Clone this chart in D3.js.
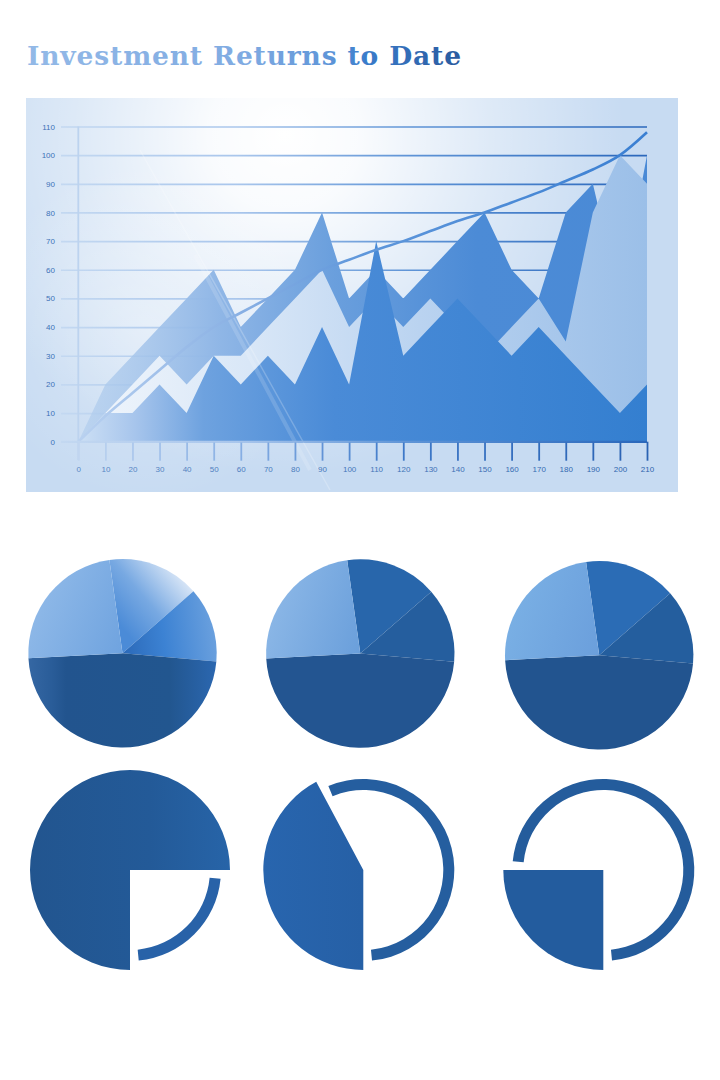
<!DOCTYPE html>
<html>
<head>
<meta charset="utf-8">
<script src="https://cdn.jsdelivr.net/npm/d3@7"></script>
<style>
  html, body { margin: 0; padding: 0; background: #ffffff; }
  svg { display: block; }
</style>
</head>
<body>
<svg id="chart" width="720" height="1080"></svg>
<script>
// ---------- DATA ----------
const titleText = "Investment Returns to Date";
const xCategories = [0,10,20,30,40,50,60,70,80,90,100,110,120,130,140,150,160,170,180,190,200,210];
const yTicks = [0,10,20,30,40,50,60,70,80,90,100,110];
const backSeries  = [0,20,30,40,50,60,40,50,60,80,50,60,50,60,70,80,60,50,80,90,50,100];
const paleSeries  = [0,10,20,30,20,30,30,40,50,60,40,50,40,50,40,30,40,50,35,80,100,90];
const frontSeries = [0,10,10,20,10,30,20,30,20,40,20,70,30,40,50,40,30,40,30,20,10,20];
const trendSeries = [0,9,17,25,33,40,45,50,55,60,63.5,67,70,73.5,77,80,83.5,87,91,95,100,108];
const pieShares = [15.8, 12.8, 47.8, 23.6];          // the three upper pies
const gaugePercents = [75, 42.2, 25];                // the three lower part-pies

// ---------- SETUP ----------
const svg = d3.select("#chart");
svg.append("rect").attr("width", 720).attr("height", 1080).attr("fill", "#ffffff");
const defs = svg.append("defs");

function linGrad(id, x1, y1, x2, y2, stops) {
  const g = defs.append("linearGradient").attr("id", id)
    .attr("gradientUnits", "userSpaceOnUse")
    .attr("x1", x1).attr("y1", y1).attr("x2", x2).attr("y2", y2);
  stops.forEach(s => g.append("stop").attr("offset", s[0]).attr("stop-color", s[1])
    .attr("stop-opacity", s[2] === undefined ? 1 : s[2]));
  return "url(#" + id + ")";
}
function radGrad(id, cx, cy, r, stops) {
  const g = defs.append("radialGradient").attr("id", id)
    .attr("gradientUnits", "userSpaceOnUse")
    .attr("cx", cx).attr("cy", cy).attr("r", r);
  stops.forEach(s => g.append("stop").attr("offset", s[0]).attr("stop-color", s[1])
    .attr("stop-opacity", s[2] === undefined ? 1 : s[2]));
  return "url(#" + id + ")";
}

// ---------- TITLE ----------
const titleFill = linGrad("titleGrad", 27, 0, 461, 0,
  [[0, "#93b9e7"], [0.5, "#80abe2"], [0.7, "#5e95d8"], [0.78, "#3a7ccb"], [1, "#2a5a9e"]]);
svg.append("text")
  .attr("x", 27).attr("y", 65)
  .attr("font-family", "'DejaVu Serif', 'Liberation Serif', serif")
  .attr("font-weight", "bold")
  .attr("font-size", 26.5)
  .attr("textLength", 434)
  .attr("lengthAdjust", "spacing")
  .attr("fill", titleFill)
  .text(titleText);

// ---------- PANEL BACKGROUND ----------
const panel = {x: 26, y: 98, w: 652, h: 394};
defs.append("clipPath").attr("id", "panelClip").append("rect")
  .attr("x", panel.x).attr("y", panel.y).attr("width", panel.w).attr("height", panel.h);
svg.append("rect").attr("x", panel.x).attr("y", panel.y).attr("width", panel.w).attr("height", panel.h)
  .attr("fill", "#c7dbf2");
svg.append("rect").attr("x", panel.x).attr("y", panel.y).attr("width", panel.w).attr("height", panel.h)
  .attr("fill", radGrad("glow1", 285, 135, 340, [[0, "#ffffff", 1], [0.22, "#ffffff", 0.9], [0.6, "#ffffff", 0.42], [1, "#ffffff", 0]]));
svg.append("rect").attr("x", panel.x).attr("y", panel.y).attr("width", panel.w).attr("height", panel.h)
  .attr("fill", radGrad("glow2", 150, 330, 170, [[0, "#ffffff", 0.35], [1, "#ffffff", 0]]));

// ---------- SCALES ----------
const x = d3.scaleLinear().domain([0, 210]).range([78.3, 647]);
const y = d3.scaleLinear().domain([0, 110]).range([441.7, 126.5]);

// ---------- GRID (y axis) ----------
const gridLeft = 61;
const gridStroke = linGrad("gridGrad", 0, 0, 647 - gridLeft, 0,
  [[0, "#c3d8f1"], [0.3, "#a9c6ec"], [0.6, "#5d93d6"], [1, "#2a67bb"]]);
const yAxis = svg.append("g")
  .attr("transform", `translate(${gridLeft},0)`)
  .call(d3.axisLeft(y).tickValues(yTicks).tickSizeInner(-(647 - gridLeft)).tickSizeOuter(0).tickPadding(6));
yAxis.select(".domain").remove();
yAxis.selectAll(".tick line").attr("stroke", gridStroke).attr("stroke-width", 1.7);
yAxis.selectAll(".tick text")
  .attr("font-family", "'Liberation Sans', Arial, sans-serif")
  .attr("font-size", 8).attr("fill", "#3d72b8");

// vertical axis line at x = 0
svg.append("line").attr("x1", x(0)).attr("x2", x(0)).attr("y1", y(110)).attr("y2", 460)
  .attr("stroke", "#bcd3ef").attr("stroke-width", 1.8);

// ---------- AREAS ----------
const areaGen = vals => d3.area()
  .x((d, i) => x(xCategories[i]))
  .y0(y(0))
  .y1(d => y(d))(vals);

const backFill = linGrad("backGrad", 78, 0, 647, 0,
  [[0, "#b4cfee", 0.7], [0.25, "#8fb6e6"], [0.45, "#6a9fdd"], [0.7, "#4c8bd6"], [1, "#4a8ad6"]]);
const paleFill = linGrad("paleGrad", 78, 0, 647, 0,
  [[0, "#f1f6fc"], [0.3, "#d9e7f7"], [0.6, "#bad3f0"], [1, "#9bbfe8"]]);
const frontFill = linGrad("frontGrad", 78, 0, 647, 0,
  [[0, "#cde0f5"], [0.1, "#a7c5ec"], [0.22, "#6ea2df"], [0.45, "#4a8bd7"], [1, "#347fd0"]]);

svg.append("path").attr("d", areaGen(backSeries)).attr("fill", backFill);
svg.append("path").attr("d", areaGen(paleSeries)).attr("fill", paleFill);
svg.append("path").attr("d", areaGen(frontSeries)).attr("fill", frontFill);

// faint light streaks
const streaks = svg.append("g").attr("clip-path", "url(#panelClip)");
streaks.append("line").attr("x1", 140).attr("y1", 150).attr("x2", 330).attr("y2", 490)
  .attr("stroke", "#ffffff").attr("stroke-opacity", 0.22).attr("stroke-width", 1.5);
streaks.append("line").attr("x1", 195).attr("y1", 255).attr("x2", 310).attr("y2", 470)
  .attr("stroke", "#ffffff").attr("stroke-opacity", 0.15).attr("stroke-width", 4);

// ---------- TREND LINE ----------
const trendLine = d3.line()
  .x((d, i) => x(xCategories[i]))
  .y(d => y(d))
  .curve(d3.curveMonotoneX);
svg.append("path").attr("d", trendLine(trendSeries))
  .attr("fill", "none")
  .attr("stroke", linGrad("trendGrad", 78, 0, 647, 0, [[0, "#b9d1f0"], [0.3, "#86aee3"], [0.5, "#5f97db"], [1, "#3a7fd2"]]))
  .attr("stroke-width", 2.6);

// ---------- X AXIS ----------
const xAxis = svg.append("g")
  .attr("transform", `translate(0,${y(0)})`)
  .call(d3.axisBottom(x).tickValues(xCategories).tickSizeInner(19).tickSizeOuter(0).tickPadding(6));
xAxis.select(".domain").remove();
const tickColor = d3.scaleLinear().domain([0, 60, 120, 210]).range(["#c0d5f0", "#86aee3", "#3d78c8", "#2a62b3"]);
xAxis.selectAll(".tick line").attr("stroke", d => tickColor(d)).attr("stroke-width", 1.8);
xAxis.selectAll(".tick text")
  .attr("font-family", "'Liberation Sans', Arial, sans-serif")
  .attr("font-size", 8).attr("fill", d => d3.interpolateRgb("#5a89c6", "#2e64ad")(d / 210));
// baseline
svg.append("line")
  .attr("transform", `translate(${gridLeft},0)`)
  .attr("x1", 0).attr("x2", 647 - gridLeft).attr("y1", y(0)).attr("y2", y(0))
  .attr("stroke", gridStroke).attr("stroke-width", 1.7);

// ---------- UPPER PIES ----------
// gradient coordinates are local to each pie's centre
const deg = Math.PI / 180;
const pieLayout = d3.pie().sort(null).value(d => d)
  .startAngle(-8 * deg).endAngle(352 * deg);
const pieArcs = pieLayout(pieShares);
const pies = [
  {cx: 122.5, cy: 653.3, r: 94.2, colors: [
    linGrad("p1s1", 0, -25, 62, -78, [[0, "#4b8bd7"], [0.45, "#78a9e2"], [1, "#dfeaf8"]]),
    linGrad("p1s2", 0, 0, 94, -12, [[0, "#2b69b8"], [0.45, "#3c82d3"], [1, "#6aa0de"]]),
    linGrad("p1s3", -94, 0, 94, 0, [[0, "#3567a3"], [0.12, "#2a5d99"], [0.2, "#22548e"], [0.75, "#22568f"], [1, "#2b67b0"]]),
    linGrad("p1s4", -94, -40, 0, 0, [[0, "#8fb9e8"], [1, "#6fa3df"]])]},
  {cx: 360.3, cy: 653.6, r: 94.2, colors: ["#2866ab", "#255e9e", "#235591",
    linGrad("p2s4", -92, -30, 0, 0, [[0, "#8ab6e6"], [1, "#6a9fdb"]])]},
  {cx: 599.2, cy: 655.3, r: 94.2, colors: ["#2b6cb5", "#245e9e", "#22548f",
    linGrad("p3s4", -92, -30, 0, 0, [[0, "#79afe4"], [1, "#6b9fdc"]])]}
];
pies.forEach(p => {
  const arcGen = d3.arc().innerRadius(0).outerRadius(p.r);
  const g = svg.append("g").attr("transform", `translate(${p.cx},${p.cy})`);
  g.selectAll("path").data(pieArcs).join("path")
    .attr("d", arcGen)
    .attr("fill", (d, i) => p.colors[i]);
});

// ---------- LOWER PART-PIES WITH RINGS ----------
const gauges = [
  {cx: 130, cy: 870, fill: linGrad("g1", -100, 0, 100, 0, [[0, "#22558f"], [0.6, "#235a98"], [1, "#2764a8"]]), ring: "#2862a8"},
  {cx: 363.3, cy: 870, fill: linGrad("g2", -100, 0, 0, 0, [[0, "#2865ae"], [1, "#2660a6"]]), ring: "#255e9f"},
  {cx: 603.3, cy: 870, fill: "#235c9e", ring: "#245c9c"}
];
const gapAngle = 5.5 * deg;
gauges.forEach((gd, i) => {
  const pct = gaugePercents[i];
  const start = Math.PI;
  const end = start + (pct / 100) * 2 * Math.PI;
  const g = svg.append("g").attr("transform", `translate(${gd.cx},${gd.cy})`);
  g.append("path")
    .attr("d", d3.arc().innerRadius(0).outerRadius(100).startAngle(start).endAngle(end)())
    .attr("fill", gd.fill);
  g.append("path")
    .attr("d", d3.arc().innerRadius(80).outerRadius(91).startAngle(end + gapAngle).endAngle(start + 2 * Math.PI - gapAngle)())
    .attr("fill", gd.ring);
});
</script>
</body>
</html>
